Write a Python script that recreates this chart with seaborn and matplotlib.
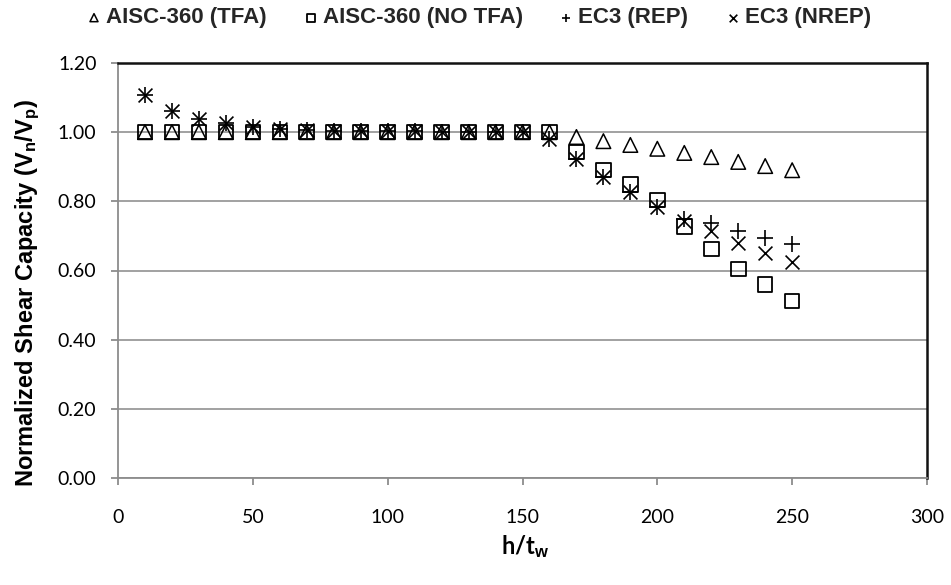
import matplotlib
matplotlib.use("Agg")
import matplotlib.pyplot as plt
import numpy as np
import pandas as pd
import seaborn as sns

# h/t_w ratios and normalized shear capacities V_n/V_p
ht = [10, 20, 30, 40, 50, 60, 70, 80, 90, 100, 110, 120, 130, 140, 150,
      160, 170, 180, 190, 200, 210, 220, 230, 240, 250]
aisc_tfa = [1.0, 1.0, 1.0, 1.0, 1.0, 1.0, 1.0, 1.0, 1.0, 1.0, 1.0, 1.0, 1.0,
            1.0, 1.0, 1.0, 0.986, 0.974, 0.963, 0.952, 0.940, 0.928, 0.914,
            0.902, 0.890]
aisc_no_tfa = [1.0, 1.0, 1.0, 1.0, 1.0, 1.0, 1.0, 1.0, 1.0, 1.0, 1.0, 1.0,
               1.0, 1.0, 1.0, 1.0, 0.943, 0.891, 0.848, 0.804, 0.728, 0.662,
               0.604, 0.560, 0.512]
ec3_rep = [1.107, 1.061, 1.037, 1.026, 1.015, 1.009, 1.006, 1.004, 1.003,
           1.002, 1.002, 1.001, 1.001, 1.0, 1.0, 0.979, 0.921, 0.871, 0.827,
           0.784, 0.748, 0.737, 0.714, 0.693, 0.676]
ec3_nrep = [1.107, 1.061, 1.037, 1.026, 1.015, 1.009, 1.006, 1.004, 1.003,
            1.002, 1.002, 1.001, 1.001, 1.0, 1.0, 0.979, 0.921, 0.871, 0.827,
            0.784, 0.744, 0.714, 0.680, 0.650, 0.624]
labels = ["AISC-360 (TFA)", "AISC-360 (NO TFA)", "EC3 (REP)", "EC3 (NREP)"]
x_ticks = [0, 50, 100, 150, 200, 250, 300]
y_ticks = [0.0, 0.2, 0.4, 0.6, 0.8, 1.0, 1.2]

df = pd.DataFrame({"ht": ht, "tfa": aisc_tfa, "notfa": aisc_no_tfa,
                   "rep": ec3_rep, "nrep": ec3_nrep})

sns.set_theme(style="white")
plt.rcParams["font.family"] = ["Liberation Sans", "DejaVu Sans"]
plt.rcParams["mathtext.fontset"] = "custom"
plt.rcParams["mathtext.rm"] = "Liberation Sans:bold"
plt.rcParams["mathtext.it"] = "Liberation Sans:bold"
plt.rcParams["mathtext.bf"] = "Liberation Sans:bold"

W, H = 951, 585
fig = plt.figure(figsize=(W / 100, H / 100), dpi=100)
x0, x1, y0, y1 = 118, 927, 63, 478
ax = fig.add_axes([x0 / W, 1 - y1 / H, (x1 - x0) / W, (y1 - y0) / H])

ms = 10.5
sns.scatterplot(data=df, x="ht", y="tfa", marker="^", s=ms ** 2,
                color="black", facecolor="none", edgecolor="black",
                linewidth=1.1, ax=ax, label=labels[0], zorder=3)
sns.scatterplot(data=df, x="ht", y="notfa", marker="s", s=ms ** 2,
                color="black", facecolor="none", edgecolor="black",
                linewidth=1.3, ax=ax, label=labels[1], zorder=3)
sns.scatterplot(data=df, x="ht", y="rep", marker="+", s=(ms * 1.05) ** 2,
                color="black", linewidth=1.2, ax=ax, label=labels[2], zorder=4)
sns.scatterplot(data=df, x="ht", y="nrep", marker="x", s=(ms * 0.95) ** 2,
                color="black", linewidth=1.2, ax=ax, label=labels[3], zorder=4)

handles, labs = ax.get_legend_handles_labels()
ax.get_legend().remove()

ax.set_xlim(0, 300)
ax.set_ylim(0, 1.2)
ax.set_xticks(x_ticks)
ax.set_yticks(y_ticks)
ax.set_xticklabels([str(v) for v in x_ticks])
ax.set_yticklabels([f"{v:.2f}" for v in y_ticks])
for t in ax.get_xticklabels() + ax.get_yticklabels():
    t.set_fontfamily(["Lato", "DejaVu Sans"])
    t.set_fontsize(14)
    t.set_color("black")
ax.tick_params(axis="both", direction="out", length=5, width=1.3,
               color="#8c8c8c", left=True, bottom=True)
ax.tick_params(axis="x", pad=17)
ax.tick_params(axis="y", pad=10.5)

ax.yaxis.grid(True, color="#9a9a9a", linewidth=1.3, zorder=0)
ax.xaxis.grid(False)
ax.set_axisbelow(True)
for side in ("left", "bottom"):
    ax.spines[side].set_color("#8c8c8c")
    ax.spines[side].set_linewidth(1.3)
for side in ("top", "right"):
    ax.spines[side].set_color("#111111")
    ax.spines[side].set_linewidth(1.8)

ax.set_ylabel(r"Normalized Shear Capacity (V$_\mathrm{n}$/V$_\mathrm{p}$)",
              fontsize=17, fontweight="bold", color="black")
ax.yaxis.set_label_coords(-0.112, 0.445)
ax.yaxis.label.set_va("center")
ax.set_xlabel(r"h/t$_\mathrm{w}$", fontsize=17, fontweight="bold",
              color="black", family=["Lato", "DejaVu Sans"])
ax.xaxis.set_label_coords(0.503, -0.165)
ax.xaxis.label.set_va("center")

# legend entries placed individually along the top edge
fs_leg = 16
fs_px = fs_leg * 100 / 72
hl = 0.6
marker_x = [94, 311, 566, 733]
for h, lab, mx in zip(handles, labs, marker_x):
    anchor = (mx - hl * fs_px / 2) / W
    fig.legend([h], [lab], loc="center left",
               bbox_to_anchor=(anchor, 1 - 18 / H), frameon=False,
               borderpad=0, borderaxespad=0, markerscale=0.55,
               handlelength=hl, handletextpad=0.25,
               prop={"family": "Liberation Sans", "weight": "bold",
                     "size": fs_leg})

fig.savefig("out.png", dpi=100)
